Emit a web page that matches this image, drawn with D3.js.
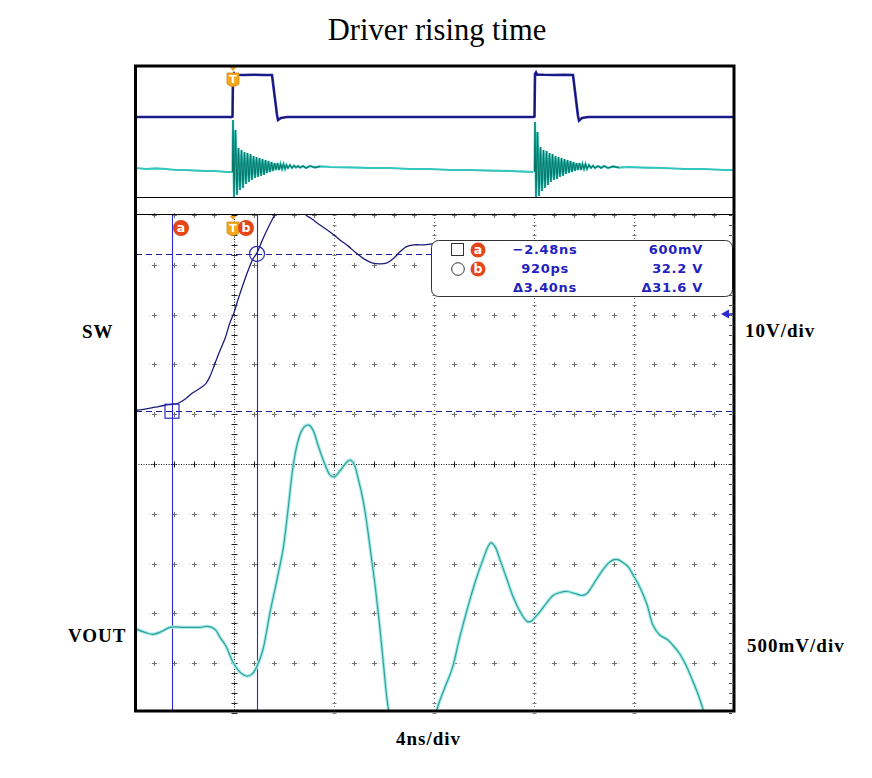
<!DOCTYPE html>
<html><head><meta charset="utf-8">
<script src="https://cdn.jsdelivr.net/npm/d3@7"></script>
<style>body{margin:0;background:#fff}svg{display:block}</style>
</head><body>
<svg id="c" width="872" height="778"></svg>
<script>
// ---------------- data ----------------
const title = "Driver rising time";
const timeDomain = [-4, 20];          // ns (4 ns/div)
const swDomain = [-60, 40];           // V  (10 V/div)
const voutDomain = [-800, 4200];      // mV (500 mV/div)
const divDomain = [-5, 5];
const majorTimes = [0, 4, 8, 12, 16];
const triggerTime = 0;

const swT = [-3.96,-3.88,-3.56,-3.16,-2.76,-2.48,-2.24,-1.96,-1.68,-1.36,-1.12,-0.96,-0.76,-0.56,-0.36,-0.16,0,0.16,0.36,0.56,0.76,0.92,1.12,1.32,1.52,1.68,2.04,2.36,2.64,2.84,3.12,3.44,3.84,4.24,4.56,4.88,5.2,5.52,5.84,6.12,6.36,6.64,6.88,7.2,7.6,7.92,8.4,9.0];
const swV = [0.8,0.8,1.0,1.4,1.8,2.0,2.2,3.0,4.2,5.2,6.2,7.6,10.2,12.8,15.2,18.4,20.4,23,26,28.8,31.2,32.4,34.8,37,39,40.4,43.8,44.8,42.8,40.2,39.2,38,36.6,35,33.8,32.4,31.2,30.4,30.2,30.4,31.2,32.6,33.6,34.0,34.0,34.2,34.4,34.3];

const voutT = [-3.96,-3.88,-3.56,-3.24,-2.88,-2.56,-1.96,-1.36,-1.04,-0.76,-0.56,-0.32,-0.04,0.24,0.52,0.72,0.92,1.16,1.44,1.72,1.96,2.16,2.36,2.52,2.68,2.84,3.0,3.16,3.36,3.6,3.84,4.0,4.24,4.48,4.64,4.8,4.96,5.16,5.32,5.48,5.64,5.8,5.96,6.12,6.24,6.64,7.04,7.44,7.84,8.12,8.44,8.72,9.04,9.44,9.72,9.96,10.16,10.28,10.44,10.64,10.92,11.16,11.44,11.72,11.88,12.04,12.28,12.52,12.76,13.04,13.32,13.64,13.92,14.12,14.32,14.52,14.76,15.0,15.2,15.36,15.56,15.76,16.0,16.24,16.52,16.76,17.04,17.32,17.56,17.84,18.08,18.32,18.56,18.76,18.92];
const voutMv = [50,40,10,-10,20,60,60,60,70,40,-40,-130,-290,-390,-430,-410,-330,-160,210,540,840,1240,1670,1890,2020,2080,2090,2040,1890,1720,1590,1570,1630,1710,1740,1700,1560,1340,1090,790,490,140,-260,-660,-860,-1460,-1860,-1660,-1060,-760,-540,-360,-30,340,570,740,870,910,870,740,540,370,220,120,120,160,230,310,380,410,420,400,380,400,470,550,640,710,740,740,710,670,570,460,290,80,-20,-60,-120,-210,-320,-460,-610,-760,-880];

const cursorTimes = [-2.48, 0.92];     // ns
const cursorVolts = [0.6, 32.2];       // V
const readLeft = ["\u22122.48ns", "920ps", "\u03943.40ns"];
const readRight = ["600mV", "32.2 V", "\u039431.6 V"];

// overview (zoomed-out) strip, time in µs
const ovDomain = [0, 6];
const ringStarts = [0.99, 4.01];
const ovSwT = [0.02,0.3,0.6,0.9,0.975,0.985,0.99,1.0,1.01,1.1,1.2,1.3,1.38,1.43,1.44,1.47,1.53,1.8,2.2,2.6,3.0,3.4,3.8,3.995,4.005,4.01,4.02,4.03,4.1,4.2,4.3,4.39,4.44,4.45,4.48,4.54,5.0,5.5,5.99];
const ovSwV = [0,0,0,0,0,0.4,40,41.5,40.2,40,40.3,40,40,2,-3,-1,0,0,0,0,0,0,0,0,0.4,41,42.5,40.5,40.2,40,40.2,40,1,-3.5,-1,0,0,0,0];
const ovVout1 = [[0.02,0.1],[0.12,0.05],[0.22,0.08],[0.32,0.05],[0.42,0],[0.52,0],[0.62,-0.03],[0.72,-0.05],[0.82,-0.05],[0.92,-0.1],[0.985,-0.1],
 [0.99,2.5],[1.0,-1.35],[1.015,2.0],[1.03,-1.25],[1.045,1.1],[1.06,-1.0],[1.075,1.0],[1.09,-0.9],[1.105,0.9],[1.12,-0.7],[1.135,0.85],[1.15,-0.6],[1.165,0.8],[1.18,-0.5],[1.195,0.7],[1.21,-0.4],[1.225,0.65],[1.24,-0.35],[1.255,0.6],[1.27,-0.3],[1.285,0.55],[1.3,-0.25],[1.315,0.5],[1.33,-0.15],[1.345,0.45],[1.36,-0.1],[1.375,0.4],[1.39,-0.05],[1.405,0.35],[1.42,0],[1.435,0.35],[1.45,0],[1.465,0.3],[1.48,0.05],[1.495,0.3],[1.51,0.05],[1.525,0.25],[1.54,0.1],[1.56,0.25],[1.58,0.1],[1.6,0.22],[1.62,0.12],[1.64,0.2],[1.66,0.12],[1.69,0.2],[1.72,0.1],[1.76,0.2],[1.81,0.12],[1.86,0.18],
 [1.96,0.15],[2.16,0.13],[2.36,0.1],[2.56,0.1],[2.76,0.05],[2.96,0.05],[3.16,0],[3.36,0],[3.56,-0.03],[3.76,-0.05],[3.91,-0.08],[3.99,-0.1]];
const ovVout2 = [[4.005,-0.1],[4.01,2.4],[4.02,-1.35],[4.035,1.9],[4.05,-1.3],[4.065,1.15],[4.08,-1.05],[4.095,1.0],[4.11,-0.9],[4.125,0.95],[4.14,-0.75],[4.155,0.85],[4.17,-0.6],[4.185,0.8],[4.2,-0.5],[4.215,0.7],[4.23,-0.45],[4.245,0.65],[4.26,-0.35],[4.275,0.6],[4.29,-0.3],[4.305,0.55],[4.32,-0.2],[4.335,0.5],[4.35,-0.15],[4.365,0.45],[4.38,-0.1],[4.395,0.4],[4.41,-0.05],[4.425,0.35],[4.44,0],[4.455,0.35],[4.47,0],[4.485,0.3],[4.5,0.05],[4.515,0.3],[4.53,0.05],[4.55,0.25],[4.57,0.1],[4.59,0.22],[4.61,0.1],[4.64,0.2],[4.67,0.1],[4.7,0.2],[4.74,0.1],[4.79,0.18],[4.85,0.12],[4.95,0.15],[5.1,0.12],[5.3,0.1],[5.5,0.05],[5.7,0.05],[5.9,0],[5.99,0]];

// ---------------- layout ----------------
const svg = d3.select("#c");
const PL = 136, PR = 733, PT = 214, PB = 711;     // main plot box
const OT = 66, OB = 197;                          // overview strip

const x = d3.scaleLinear().domain(timeDomain).range([134, 734]);
const yDiv = d3.scaleLinear().domain(divDomain).range([713, 215]);
const ySW = d3.scaleLinear().domain(swDomain).range([713, 215]);
const yV = d3.scaleLinear().domain(voutDomain).range([713, 215]);
const ox = d3.scaleLinear().domain(ovDomain).range([134, 734]);
const oySW = d3.scaleLinear().domain([0, 40]).range([117, 75]);
const oyV = d3.scaleLinear().domain([-2, 2]).range([210, 130]);

const defs = svg.append("defs");
defs.append("clipPath").attr("id","clipMain").append("rect")
  .attr("x",PL).attr("y",PT+1).attr("width",PR-PL).attr("height",PB-PT-1);
defs.append("clipPath").attr("id","clipOv").append("rect")
  .attr("x",PL).attr("y",OT+1).attr("width",PR-PL).attr("height",OB-OT);

// title
svg.append("text").attr("x",437).attr("y",40).attr("text-anchor","middle")
  .attr("font-family","Liberation Serif, Times New Roman, serif").attr("font-size",30.5)
  .attr("fill","#000").text(title);

// ---------------- grid ----------------
const grid = svg.append("g");
const minorIdx = d3.range(0, 31);
const minorTimes = minorIdx.map(i => timeDomain[0] + i*0.8);
const rows = d3.range(-4, 6);
minorTimes.forEach((t,i) => {
  if (i % 5 === 0) return;
  rows.forEach(d => {
    const cx = Math.round(x(t)) + 0.5, cy = Math.round(yDiv(d)) + 0.5;
    grid.append("path").attr("d",`M${cx-2.5},${cy}H${cx+2.5}M${cx},${cy-2.5}V${cy+2.5}`)
      .attr("stroke","#707070").attr("stroke-width",1).attr("fill","none");
    grid.append("path").attr("d",`M${cx-5},${cy}h1M${cx+4},${cy}h1`)
      .attr("stroke","#c4c4c4").attr("stroke-width",1);
  });
});
majorTimes.forEach(t => {
  const xx = Math.round(x(t)) + 0.5;
  const trig = t === triggerTime;
  grid.append("line").attr("x1",xx).attr("x2",xx).attr("y1",PT).attr("y2",PB)
    .attr("stroke","#000").attr("stroke-width",1)
    .attr("stroke-dasharray", trig ? "1,1.5" : "1,3").attr("opacity", trig ? 0.9 : 0.55);
  d3.range(0, 51).forEach(k => {
    const yy = Math.round(yDiv(-5 + k*0.2)) + 0.5;
    grid.append("line").attr("x1",xx-(trig?3:2)).attr("x2",xx+(trig?3:2)).attr("y1",yy).attr("y2",yy)
      .attr("stroke","#000").attr("stroke-width",1).attr("opacity", trig ? 0.85 : 0.5);
  });
});
{
  const yy = Math.round(yDiv(0)) + 0.5;
  grid.append("line").attr("x1",PL).attr("x2",PR).attr("y1",yy).attr("y2",yy)
    .attr("stroke","#000").attr("stroke-dasharray","1,1.5").attr("opacity",0.9);
  minorTimes.forEach(t => {
    const xx = Math.round(x(t)) + 0.5;
    grid.append("line").attr("x1",xx).attr("x2",xx).attr("y1",yy-3).attr("y2",yy+3)
      .attr("stroke","#000").attr("opacity",0.8);
  });
}
d3.range(0, 51).forEach(k => {
  const yy = Math.round(yDiv(-5 + k*0.2)) + 0.5;
  grid.append("line").attr("x1",PR-4).attr("x2",PR-1).attr("y1",yy).attr("y2",yy)
    .attr("stroke","#000").attr("stroke-width",1).attr("opacity",0.7);
});

// ---------------- cursors ----------------
const cur = svg.append("g");
cursorTimes.forEach(t => {
  const xx = Math.round(x(t)) + 0.5;
  cur.append("line").attr("x1",xx).attr("x2",xx).attr("y1",PT).attr("y2",PB)
    .attr("stroke","#2a2ad2").attr("stroke-width",1.1);
});
cursorVolts.forEach(v => {
  const yy = Math.round(ySW(v)) + 0.5;
  cur.append("line").attr("x1",PL).attr("x2",PR).attr("y1",yy).attr("y2",yy)
    .attr("stroke","#1e1e9a").attr("stroke-width",1.1).attr("stroke-dasharray","6,4");
});

// ---------------- traces ----------------
const traces = svg.append("g").attr("clip-path","url(#clipMain)");
const lineV = d3.line().x(d => x(d[0])).y(d => yV(d[1])).curve(d3.curveCatmullRom.alpha(0.5));
const vData = voutT.map((t,i) => [t, voutMv[i]]);
traces.append("path").datum(vData).attr("d",lineV).attr("fill","none")
  .attr("stroke","#a6eceb").attr("stroke-width",3.4);
traces.append("path").datum(vData).attr("d",lineV).attr("fill","none")
  .attr("stroke","#34a098").attr("stroke-width",1.2);
const lineS = d3.line().x(d => x(d[0])).y(d => ySW(d[1])).curve(d3.curveCatmullRom.alpha(0.5));
const sData = swT.map((t,i) => [t, swV[i]]);
traces.append("path").datum(sData).attr("d",lineS).attr("fill","none")
  .attr("stroke","#1c1c78").attr("stroke-width",1.3);

{
  const ax = x(cursorTimes[0]), ay = ySW(cursorVolts[0]);
  svg.append("rect").attr("x",ax-7).attr("y",ay-7).attr("width",14).attr("height",14)
    .attr("fill","none").attr("stroke","#2a2ac0").attr("stroke-width",1.2);
  const bx = x(cursorTimes[1]), by = ySW(cursorVolts[1]);
  svg.append("circle").attr("cx",bx).attr("cy",by).attr("r",7.5)
    .attr("fill","none").attr("stroke","#2a2ac0").attr("stroke-width",1.2);
}

// ---------------- overview strip ----------------
const ov = svg.append("g").attr("clip-path","url(#clipOv)");
const oLineV = d3.line().x(d => ox(d[0])).y(d => oyV(d[1]));
[ovVout1, ovVout2].forEach((seg, k) => {
  ov.append("path").datum(seg).attr("d",oLineV).attr("fill","none")
    .attr("stroke","#34c6be").attr("stroke-width",2.2);
  const ring = seg.filter(d => d[0] >= ringStarts[k] - 0.01 && d[0] <= ringStarts[k] + 0.9);
  ov.append("path").datum(ring).attr("d",oLineV).attr("fill","none")
    .attr("stroke","#08786a").attr("stroke-width",1.1);
});
const oSw = ovSwT.map((t,i) => [t, ovSwV[i]]);
const oLineS = d3.line().x(d => ox(d[0])).y(d => oySW(d[1]));
ov.append("path").datum(oSw).attr("d",oLineS).attr("fill","none")
  .attr("stroke","#2424aa").attr("stroke-width",2.6);
ov.append("path").datum(oSw).attr("d",oLineS).attr("fill","none")
  .attr("stroke","#101050").attr("stroke-width",0.8);

svg.append("line").attr("x1",PL).attr("x2",PR).attr("y1",OB+0.5).attr("y2",OB+0.5).attr("stroke","#000");
svg.append("line").attr("x1",PL).attr("x2",PR).attr("y1",PT+0.5).attr("y2",PT+0.5).attr("stroke","#000");

// ---------------- markers ----------------
function trigTag(cx, top) {
  const g = svg.append("g");
  g.append("path").attr("d",`M${cx-3.5},${top}L${cx+3.5},${top}L${cx},${top+4}Z`).attr("fill","#f0a020");
  g.append("path").attr("d",`M${cx-6},${top+6}H${cx+6}V${top+17}Q${cx},${top+22} ${cx-6},${top+17}Z`)
    .attr("fill","#f2a81e").attr("stroke","#d08a10").attr("stroke-width",0.8);
  g.append("text").attr("x",cx).attr("y",top+16).attr("text-anchor","middle")
    .attr("font-family","DejaVu Sans, sans-serif").attr("font-weight","bold").attr("font-size",11)
    .attr("fill","#fff").text("T");
}
trigTag(x(triggerTime) - 1, 67);
trigTag(x(triggerTime) - 1, 216);

function badge(cx, cy, r, letter) {
  svg.append("circle").attr("cx",cx).attr("cy",cy).attr("r",r).attr("fill","#e4461a");
  svg.append("text").attr("x",cx).attr("y",cy+4.2).attr("text-anchor","middle")
    .attr("font-family","DejaVu Sans, sans-serif").attr("font-weight","bold").attr("font-size",12.5)
    .attr("fill","#fff").text(letter);
}
badge(x(cursorTimes[0]) + 9, 228, 8, "a");
badge(x(triggerTime) + 12, 228, 8, "b");

svg.append("path").attr("d","M721,314L729,309.5L729,318.5Z").attr("fill","#2a2ad0");
svg.append("line").attr("x1",729).attr("x2",733).attr("y1",314).attr("y2",314).attr("stroke","#2a2ad0").attr("stroke-width",1.5);

// ---------------- readout box ----------------
const box = svg.append("g");
box.append("rect").attr("x",431.5).attr("y",240.5).attr("width",301).attr("height",56).attr("rx",7)
  .attr("fill","#fff").attr("stroke","#333").attr("stroke-width",1);
box.append("rect").attr("x",451.5).attr("y",243.5).attr("width",12).attr("height",12)
  .attr("fill","none").attr("stroke","#333").attr("stroke-width",1);
box.append("circle").attr("cx",458).attr("cy",269).attr("r",6.3)
  .attr("fill","none").attr("stroke","#333").attr("stroke-width",1);
badge(478, 250, 7.5, "a");
badge(478, 269, 7.5, "b");
const rowY = [254, 273, 292];
const readFont = t => t.attr("font-family","DejaVu Sans, sans-serif").attr("font-weight","bold")
  .attr("font-size",13).attr("letter-spacing",0.7).attr("fill","#2222c0");
readLeft.forEach((s,i) => readFont(box.append("text").attr("x",545).attr("y",rowY[i]).attr("text-anchor","middle")).text(s));
readRight.forEach((s,i) => readFont(box.append("text").attr("x",703).attr("y",rowY[i]).attr("text-anchor","end")).text(s));

// ---------------- outer frame ----------------
svg.append("rect").attr("x",135.5).attr("y",66).attr("width",598.5).attr("height",645)
  .attr("fill","none").attr("stroke","#000").attr("stroke-width",3);

// ---------------- labels ----------------
const lab = (txt, xx, yy) => svg.append("text").attr("x",xx).attr("y",yy)
  .attr("font-family","Liberation Serif, Times New Roman, serif").attr("font-weight","bold")
  .attr("font-size",19).attr("letter-spacing",1).attr("fill","#000").text(txt);
lab("SW", 82, 338);
lab("VOUT", 68, 642);
lab("10V/div", 745, 337);
lab("500mV/div", 747, 652);
lab("4ns/div", 396, 745);
</script>
</body></html>
